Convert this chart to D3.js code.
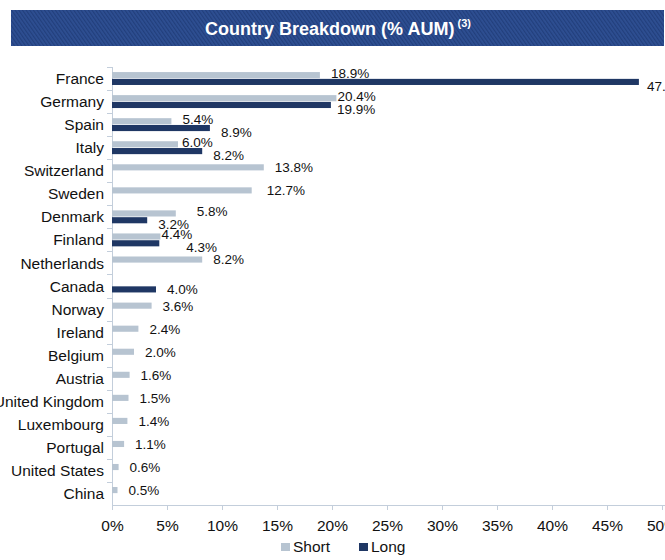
<!DOCTYPE html>
<html>
<head>
<meta charset="utf-8">
<script src="https://cdn.jsdelivr.net/npm/d3@7"></script>
<style>
  body { margin: 0; background: #fff; }
  svg { display: block; font-family: 'Liberation Sans', Arial, sans-serif; }
</style>
</head>
<body>
<div id="chart"></div>
<script>
const countries = ['France', 'Germany', 'Spain', 'Italy', 'Switzerland', 'Sweden', 'Denmark',
  'Finland', 'Netherlands', 'Canada', 'Norway', 'Ireland', 'Belgium', 'Austria',
  'United Kingdom', 'Luxembourg', 'Portugal', 'United States', 'China'];
const shortVals = [18.9, 20.4, 5.4, 6.0, 13.8, 12.7, 5.8, 4.4, 8.2, null, 3.6, 2.4, 2.0, 1.6, 1.5, 1.4, 1.1, 0.6, 0.5];
const longVals = [47.9, 19.9, 8.9, 8.2, null, null, 3.2, 4.3, null, 4.0, null, null, null, null, null, null, null, null, null];
const seriesNames = ['Short', 'Long'];
const xTicks = [0, 5, 10, 15, 20, 25, 30, 35, 40, 45, 50];
const title = 'Country Breakdown (% AUM)';

// hand-placed labels in the original, shift a few of them sideways
const labelShift = { 'France|Long': -3, 'Germany|Short': -10, 'Germany|Long': -5, 'Italy|Short': -7,
  'Denmark|Short': 10, 'Finland|Short': -10, 'Finland|Long': 16, 'Sweden|Short': 4 };

const W = 665, H = 560;
const colors = { Short: '#b7c4d1', Long: '#1f3764' };
const axisColor = '#c3cedb';

const svg = d3.select('#chart').append('svg')
  .attr('width', W).attr('height', H);

// title banner with fine hatch
const defs = svg.append('defs');
const pat = defs.append('pattern')
  .attr('id', 'hatch')
  .attr('width', 3).attr('height', 3)
  .attr('patternUnits', 'userSpaceOnUse')
  .attr('patternTransform', 'rotate(-35)');
pat.append('rect').attr('width', 3).attr('height', 3).attr('fill', '#2e4f92');
pat.append('rect').attr('width', 1.2).attr('height', 3).attr('fill', '#223f7c');

svg.append('rect')
  .attr('x', 11).attr('y', 10).attr('width', 653).attr('height', 36)
  .attr('fill', 'url(#hatch)');

const t = svg.append('text')
  .attr('x', 338).attr('y', 35)
  .attr('text-anchor', 'middle')
  .attr('fill', '#fff')
  .attr('font-weight', 'bold')
  .attr('font-size', '18px');
t.append('tspan').text(title);
t.append('tspan').text(' (3)')
  .attr('font-size', '11px')
  .attr('dy', -8);

// scales
let x = d3.scaleLinear().domain([0, 50]).range([112, 662]);
let y = d3.scaleBand().domain(countries).range([67, 505]).paddingInner(0.44).paddingOuter(0.22);
let ySub = d3.scaleBand().domain(seriesNames).range([0, y.bandwidth()]).paddingInner(0.1);

// bottom axis
let xAxis = svg.append('g')
  .attr('transform', 'translate(0,505)')
  .call(d3.axisBottom(x).tickValues(xTicks).tickSize(5).tickSizeOuter(0)
    .tickFormat((d) => d + '%'));
xAxis.select('.domain').attr('stroke', axisColor).attr('d', 'M112,0.5H665');
xAxis.selectAll('.tick line').attr('stroke', axisColor);
xAxis.selectAll('.tick text')
  .attr('y', 26).attr('dy', null)
  .attr('fill', '#111')
  .style('font-size', '15.5px')
  .style('font-family', "'Liberation Sans', Arial, sans-serif");

// left axis, ticks sit between categories
let yEdges = d3.scaleLinear().domain([0, countries.length]).range([67, 505]);
let yAxis = svg.append('g');
yAxis.append('line')
  .attr('x1', 112.5).attr('x2', 112.5).attr('y1', 67).attr('y2', 505)
  .attr('stroke', axisColor);
yAxis.selectAll('.edge')
  .data(d3.range(countries.length))
  .enter().append('line')
    .attr('x1', 107).attr('x2', 112)
    .attr('y1', (i) => Math.round(yEdges(i)) + 0.5)
    .attr('y2', (i) => Math.round(yEdges(i)) + 0.5)
    .attr('stroke', axisColor);
yAxis.selectAll('.cat')
  .data(countries)
  .enter().append('text')
    .attr('x', 104)
    .attr('y', (d) => y(d) + y.bandwidth() / 2)
    .attr('dy', '0.36em')
    .attr('text-anchor', 'end')
    .attr('font-size', '15.5px')
    .attr('fill', '#111')
    .text((d) => d);

// bars
const rows = [];
countries.forEach((c, i) => {
  if (shortVals[i] != null) rows.push({ country: c, series: 'Short', value: shortVals[i], pair: longVals[i] != null });
  if (longVals[i] != null) rows.push({ country: c, series: 'Long', value: longVals[i], pair: shortVals[i] != null });
});

svg.append('g').selectAll('rect')
  .data(rows)
  .enter().append('rect')
    .attr('x', x(0))
    .attr('y', (d) => y(d.country) + ySub(d.series))
    .attr('width', (d) => x(d.value) - x(0))
    .attr('height', ySub.bandwidth())
    .attr('fill', (d) => colors[d.series]);

// value labels
svg.append('g').selectAll('text')
  .data(rows)
  .enter().append('text')
    .attr('x', (d) => x(d.value) + 11 + (labelShift[d.country + '|' + d.series] || 0))
    .attr('y', (d) => {
      let cy = y(d.country) + ySub(d.series) + ySub.bandwidth() / 2;
      if (d.pair) cy += d.series === 'Short' ? -2 : 4;
      return cy;
    })
    .attr('dy', '0.36em')
    .attr('font-size', '13.5px')
    .attr('fill', '#111')
    .text((d) => d.value.toFixed(1) + '%');

// legend
const legend = svg.append('g');
const legendX = { Short: 281, Long: 359 };
seriesNames.forEach((s) => {
  legend.append('rect')
    .attr('x', legendX[s]).attr('y', 543)
    .attr('width', 9).attr('height', 8)
    .attr('fill', colors[s]);
  legend.append('text')
    .attr('x', legendX[s] + 12).attr('y', 552)
    .attr('font-size', '15.5px')
    .attr('fill', '#111')
    .text(s);
});
</script>
</body>
</html>
